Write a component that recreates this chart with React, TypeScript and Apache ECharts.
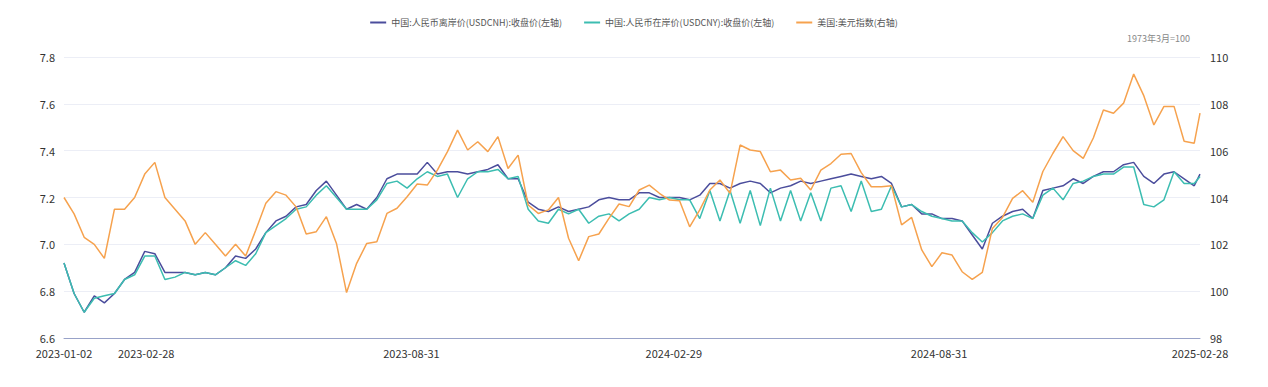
import React, { useEffect, useRef } from "react";
import * as echarts from "echarts";

const dates = [
  "2023-01-02","2023-01-09","2023-01-16","2023-01-23","2023-01-30","2023-02-06","2023-02-13","2023-02-20","2023-02-27",
  "2023-03-06","2023-03-13","2023-03-20","2023-03-27","2023-04-03","2023-04-10","2023-04-17","2023-04-24",
  "2023-05-01","2023-05-08","2023-05-15","2023-05-22","2023-05-29","2023-06-05","2023-06-12","2023-06-19","2023-06-26",
  "2023-07-03","2023-07-10","2023-07-17","2023-07-24","2023-07-31","2023-08-07","2023-08-14","2023-08-21","2023-08-28",
  "2023-09-04","2023-09-11","2023-09-18","2023-09-25","2023-10-02","2023-10-09","2023-10-16","2023-10-23","2023-10-30",
  "2023-11-06","2023-11-13","2023-11-20","2023-11-27","2023-12-04","2023-12-11","2023-12-18","2023-12-25",
  "2024-01-01","2024-01-08","2024-01-15","2024-01-22","2024-01-29","2024-02-05","2024-02-12","2024-02-19","2024-02-26",
  "2024-03-04","2024-03-11","2024-03-18","2024-03-25","2024-04-01","2024-04-08","2024-04-15","2024-04-22","2024-04-29",
  "2024-05-06","2024-05-13","2024-05-20","2024-05-27","2024-06-03","2024-06-10","2024-06-17","2024-06-24",
  "2024-07-01","2024-07-08","2024-07-15","2024-07-22","2024-07-29","2024-08-05","2024-08-12","2024-08-19","2024-08-26",
  "2024-09-02","2024-09-09","2024-09-16","2024-09-23","2024-09-30","2024-10-07","2024-10-14","2024-10-21","2024-10-28",
  "2024-11-04","2024-11-11","2024-11-18","2024-11-25","2024-12-02","2024-12-09","2024-12-16","2024-12-23","2024-12-30",
  "2025-01-06","2025-01-13","2025-01-20","2025-01-27","2025-02-03","2025-02-10","2025-02-17","2025-02-24","2025-02-28"
];

const cnh = [
  6.92,6.79,6.71,6.78,6.75,6.79,6.85,6.88,6.97,
  6.96,6.88,6.88,6.88,6.87,6.88,6.87,6.90,
  6.95,6.94,6.98,7.05,7.10,7.12,7.16,7.17,7.23,
  7.27,7.21,7.15,7.17,7.15,7.20,7.28,7.30,7.30,
  7.30,7.35,7.30,7.31,7.31,7.30,7.31,7.32,7.34,
  7.28,7.28,7.18,7.15,7.14,7.16,7.14,7.15,
  7.16,7.19,7.20,7.19,7.19,7.22,7.22,7.20,7.20,
  7.20,7.19,7.21,7.26,7.26,7.24,7.26,7.27,7.26,
  7.22,7.24,7.25,7.27,7.26,7.27,7.28,7.29,
  7.30,7.29,7.28,7.29,7.26,7.16,7.17,7.13,7.13,
  7.11,7.11,7.10,7.04,6.98,7.09,7.12,7.14,7.15,
  7.11,7.23,7.24,7.25,7.28,7.26,7.29,7.31,7.31,
  7.34,7.35,7.29,7.26,7.30,7.31,7.28,7.25,7.30
];

const cny = [
  6.92,6.79,6.71,6.77,6.78,6.79,6.85,6.87,6.95,
  6.95,6.85,6.86,6.88,6.87,6.88,6.87,6.90,
  6.93,6.91,6.96,7.05,7.08,7.11,7.15,7.16,7.21,
  7.25,7.20,7.15,7.15,7.15,7.19,7.26,7.27,7.24,
  7.28,7.31,7.29,7.30,7.20,7.28,7.31,7.31,7.32,
  7.28,7.29,7.15,7.10,7.09,7.15,7.13,7.15,
  7.09,7.12,7.13,7.10,7.13,7.15,7.20,7.19,7.20,
  7.19,7.19,7.11,7.23,7.10,7.23,7.09,7.23,7.08,
  7.24,7.10,7.23,7.10,7.22,7.10,7.24,7.25,
  7.14,7.27,7.14,7.15,7.25,7.16,7.17,7.14,7.12,
  7.11,7.10,7.10,7.05,7.01,7.05,7.10,7.12,7.13,
  7.11,7.21,7.24,7.19,7.26,7.27,7.29,7.30,7.30,
  7.33,7.33,7.17,7.16,7.19,7.31,7.26,7.26,7.29
];

const dxy = [
  104.0,103.3,102.3,102.0,101.4,103.5,103.5,104.0,105.0,
  105.5,104.0,103.5,103.0,102.0,102.5,102.0,101.5,
  102.0,101.5,102.6,103.75,104.25,104.1,103.6,102.44,102.54,
  103.18,102.04,99.94,101.19,102.04,102.11,103.32,103.54,104.03,
  104.58,104.53,105.17,105.96,106.88,106.03,106.38,105.96,106.6,
  105.24,105.81,103.68,103.32,103.47,104.0,102.26,101.3,
  102.33,102.44,103.11,103.72,103.61,104.32,104.53,104.18,103.89,
  103.86,102.75,103.47,104.32,104.75,104.18,106.24,106.03,105.96,
  105.1,105.17,104.75,104.82,104.32,105.17,105.45,105.85,
  105.88,105.06,104.46,104.46,104.5,102.83,103.15,101.76,101.05,
  101.64,101.54,100.83,100.5,100.8,102.68,103.15,103.96,104.29,
  103.8,105.11,105.89,106.6,106.0,105.67,106.54,107.74,107.6,
  108.03,109.27,108.35,107.1,107.89,107.89,106.4,106.32,107.6
];

const xLabelDates = ["2023-01-02","2023-02-28","2023-08-31","2024-02-29","2024-08-31","2025-02-28"];

const seriesNames = [
  "中国:人民币离岸价(USDCNH):收盘价(左轴)",
  "中国:人民币在岸价(USDCNY):收盘价(左轴)",
  "美国:美元指数(右轴)"
];

const ts = (s: string) => {
  const [y, m, d] = s.split("-").map(Number);
  return new Date(y, m - 1, d).getTime();
};
const pad = (n: number) => (n < 10 ? "0" + n : "" + n);
const fmt = (v: number) => {
  const d = new Date(v);
  return d.getFullYear() + "-" + pad(d.getMonth() + 1) + "-" + pad(d.getDate());
};

export default function App() {
  const ref = useRef<HTMLDivElement>(null);
  useEffect(() => {
    document.body.style.margin = "0";
    const chart = echarts.init(ref.current!, null, { renderer: "svg" });
    const pairs = (vals: number[]) => dates.map((d, i) => [ts(d), vals[i]]);
    const font = '"Microsoft YaHei", "Noto Sans CJK SC", "Noto Sans", sans-serif';
    chart.setOption({
      animation: false,
      textStyle: { fontFamily: font },
      color: ["#4b4d9c", "#3cbdb1", "#f6a24e"],
      legend: {
        top: 13,
        left: "center",
        icon: "rect",
        itemWidth: 16,
        itemHeight: 2,
        itemGap: 22,
        textStyle: { fontSize: 9, color: "#555" },
        data: seriesNames
      },
      grid: { left: 64, right: 68, top: 57, bottom: 49 },
      xAxis: {
        type: "value",
        min: ts(dates[0]),
        max: ts(dates[dates.length - 1]),
        axisLine: { lineStyle: { color: "#98a2c8" } },
        axisTick: { show: false },
        splitLine: { show: false },
        axisLabel: {
          customValues: xLabelDates.map(ts),
          formatter: (v: number) => fmt(v),
          color: "#333",
          fontSize: 11,
          lineHeight: 11,
          margin: 9,
          showMinLabel: true,
          showMaxLabel: true,
          hideOverlap: false
        }
      },
      yAxis: [
        {
          type: "value",
          min: 6.6,
          max: 7.8,
          interval: 0.2,
          axisLine: { show: false },
          axisTick: { show: false },
          axisLabel: { color: "#333", fontSize: 11, lineHeight: 11, margin: 9, padding: [0, 0, 4, 0], formatter: (v: number) => v.toFixed(1) },
          splitLine: { lineStyle: { color: "#eceef6" } }
        },
        {
          type: "value",
          position: "right",
          min: 98,
          max: 110,
          interval: 2,
          name: "1973年3月=100",
          nameLocation: "end",
          nameGap: 14,
          nameTextStyle: { color: "#888", fontSize: 9, align: "right", padding: [0, 10, 0, 0] },
          axisLine: { show: false },
          axisTick: { show: false },
          axisLabel: { color: "#333", fontSize: 11, lineHeight: 11, margin: 10, padding: [0, 0, 4, 0] },
          splitLine: { show: false }
        }
      ],
      series: [
        { name: seriesNames[0], type: "line", yAxisIndex: 0, showSymbol: false, lineStyle: { width: 1.5 }, data: pairs(cnh) },
        { name: seriesNames[1], type: "line", yAxisIndex: 0, showSymbol: false, lineStyle: { width: 1.5 }, data: pairs(cny) },
        { name: seriesNames[2], type: "line", yAxisIndex: 1, showSymbol: false, lineStyle: { width: 1.5 }, data: pairs(dxy) }
      ]
    });
    return () => chart.dispose();
  }, []);
  return <div ref={ref} style={{ width: 1268, height: 387 }} />;
}
